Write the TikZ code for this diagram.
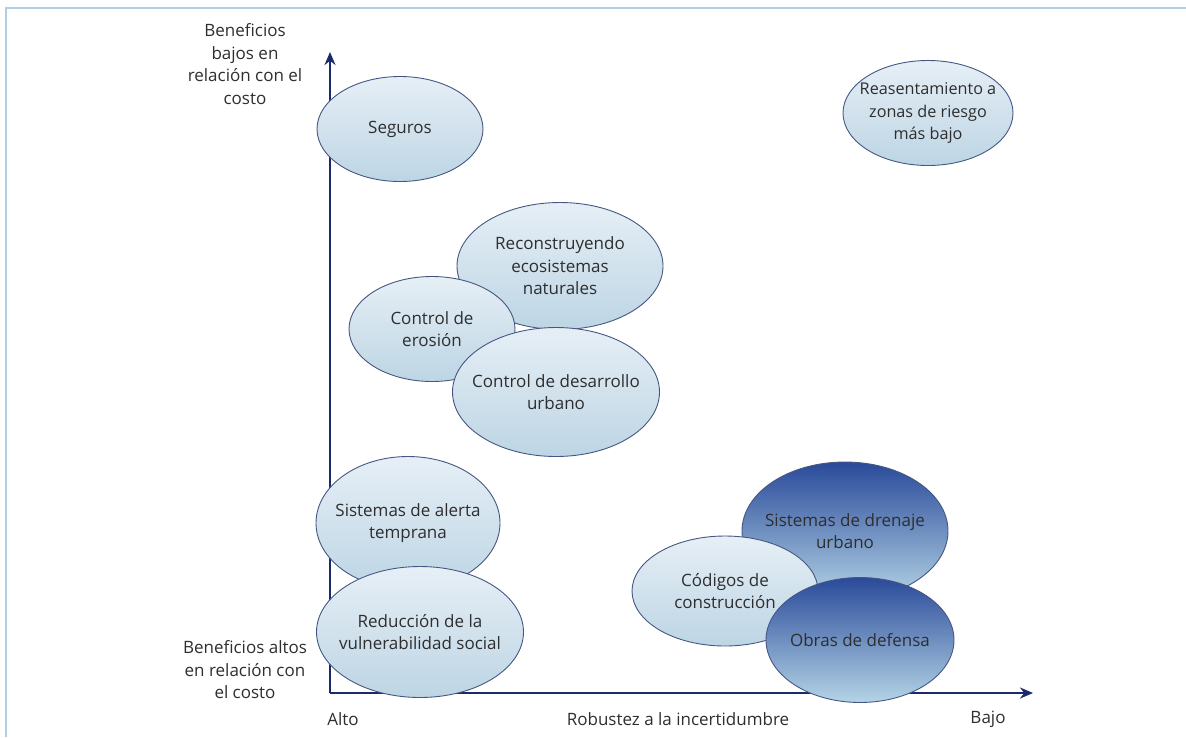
\documentclass[tikz,border=0pt]{standalone}
\usepackage{fontspec}
\setmainfont{Open Sans}
\usetikzlibrary{shapes.geometric,arrows.meta}
\definecolor{edge}{HTML}{475783}
\definecolor{lighttop}{HTML}{E6EFF6}
\definecolor{lightbot}{HTML}{BDD5E4}
\definecolor{darktop}{HTML}{2A4A9A}
\definecolor{darkbot}{HTML}{B4D4E6}
\definecolor{axiscol}{HTML}{1B2A6B}
\definecolor{txt}{HTML}{2E2E2E}
\definecolor{frame}{HTML}{B3CDE3}
\tikzset{
  lab/.style={align=center, text=txt, font=\fontsize{17}{22.5}\selectfont, inner sep=0pt},
  bub/.style={ellipse, draw=edge, line width=0.9pt, top color=lighttop, bottom color=lightbot,
    inner sep=0pt, label={[lab]center:#1}},
  dbub/.style={bub=#1, top color=darktop, bottom color=darkbot},
  axis/.style={draw=axiscol, line width=2.6pt, -{Stealth[length=13pt,width=11pt]}}
}
\begin{document}
\begin{tikzpicture}[x=1pt,y=-1pt]
\useasboundingbox (0,0) rectangle (1186,737);
\draw[frame, line width=1.5pt] (6,737) -- (6,8) -- (1186,8);
\coordinate (o) at (330,693);
\coordinate (ytip) at (330,52);
\coordinate (xtip) at (1033,693);
\draw[axis] (o) -- (ytip);
\draw[axis] (o) -- (xtip);

\node[bub={Seguros}, minimum width=166pt, minimum height=105pt] (seg) at (400,129) {};
\node[ellipse, draw=edge, line width=0.9pt, top color=lighttop, bottom color=lightbot, inner sep=0pt,
  label={[lab, font=\fontsize{16.2}{22.5}\selectfont]center:Reasentamiento a\\zonas de riesgo\\más bajo},
  minimum width=170pt, minimum height=105pt] (rea) at (928,113) {};
\node[bub={Reconstruyendo\\ecosistemas\\naturales}, minimum width=206pt, minimum height=127pt] (rec) at (560,266) {};
\node[bub={Control de\\erosión}, minimum width=166pt, minimum height=105pt] (ero) at (432,329) {};
\node[bub={Control de desarrollo\\urbano}, minimum width=207pt, minimum height=129pt] (des) at (556,392) {};
\node[bub={Sistemas de alerta\\temprana}, minimum width=184pt, minimum height=133pt] (ale) at (408,523) {};
\node[bub={Reducción de la\\vulnerabilidad social}, minimum width=207pt, minimum height=131pt] (red) at (420,632) {};
\node[dbub={Sistemas de drenaje\\urbano}, minimum width=206pt, minimum height=138pt] (dre) at (845,531) {};
\node[bub={Códigos de\\construcción}, minimum width=186pt, minimum height=110pt] (cod) at (725,591) {};
\node[dbub={Obras de defensa}, minimum width=188pt, minimum height=125pt] (obr) at (860,640) {};

\node[lab] (ytop) at (245,64) {Beneficios\\bajos en\\relación con el\\costo};
\node[lab] (ybot) at (245,670) {Beneficios altos\\en relación con\\el costo};
\node[lab] (alto) at (343,719) {Alto};
\node[lab] (rob) at (678,719) {Robustez a la incertidumbre};
\node[lab] (bajo) at (988,719) {Bajo};
\end{tikzpicture}
\end{document}
